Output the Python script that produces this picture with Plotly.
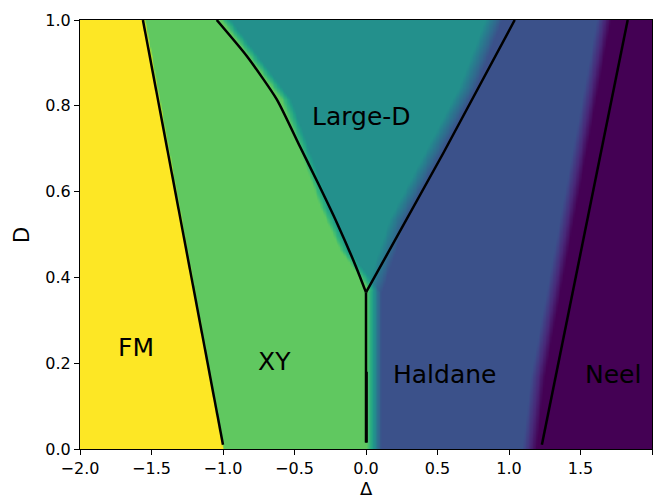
import numpy as np
import plotly.graph_objects as go

# ---- phase values (viridis positions) ----
phase_names = ["FM", "XY", "Large-D", "Haldane", "Neel"]
phase_values = [1.0, 0.75, 0.5, 0.25, 0.0]

# ---- colour-map (heatmap) boundaries ----
cmap_fm_xy_D = [0.0, 1.0]
cmap_fm_xy_delta = [-1.0, -1.55]
cmap_tc_D = 0.37
cmap_xy_h_delta = 0.055
cmap_xy_ld_D = [0.37, 0.464, 0.565, 0.705, 0.815, 1.0]
cmap_xy_ld_delta = [0.055, -0.15, -0.29, -0.44, -0.56, -0.98]
cmap_ld_h_D = [0.37, 0.464, 0.534, 0.845, 1.0]
cmap_ld_h_delta = [0.055, 0.15, 0.22, 0.71, 0.89]
cmap_h_n_D = [0.0, 0.17, 1.0]
cmap_h_n_delta = [1.14, 1.20, 1.66]
# widths of the colour blur across each boundary (in delta units)
blur_fm_xy, blur_xy_ld, blur_ld_h, blur_xy_h, blur_h_n = 0.015, 0.07, 0.12, 0.1, 0.1

# ---- black boundary lines ----
line_fm_xy_delta = [-1.0, -1.56]
line_fm_xy_D = [0.01, 1.0]
line_xy_ld_delta = [0.0, -0.07, -0.203, -0.336, -0.462, -0.624, -0.834, -1.044]
line_xy_ld_D = [0.365, 0.425, 0.527, 0.620, 0.705, 0.815, 0.916, 1.0]
line_ld_h_delta = [0.0, 0.541, 1.04]
line_ld_h_D = [0.365, 0.69, 1.0]
line_xy_h_delta = [0.0, 0.0]
line_xy_h_D = [0.015, 0.365]
line_xy_h2_delta = [0.004, 0.004]
line_xy_h2_D = [0.015, 0.18]
line_h_n_delta = [1.23, 1.83]
line_h_n_D = [0.01, 1.0]

# ---- labels ----
label_text = ["FM", "XY", "Large-D", "Haldane", "Neel"]
label_delta = [-1.61, -0.64, -0.03, 0.55, 1.73]
label_D = [0.236, 0.204, 0.776, 0.173, 0.173]

x_tickvals = [-2.0, -1.5, -1.0, -0.5, 0.0, 0.5, 1.0, 1.5, 2.0]
x_ticktext = ["\u22122.0", "\u22121.5", "\u22121.0", "\u22120.5", "0.0", "0.5", "1.0", "1.5", "2.0"]
y_tickvals = [0.0, 0.2, 0.4, 0.6, 0.8, 1.0]
y_ticktext = ["0.0", "0.2", "0.4", "0.6", "0.8", "1.0"]

# ---- build phase grid from the boundaries ----
gx = np.linspace(-2, 2, 401)
gy = np.linspace(0, 1, 201)


def ramp(x, b, w):
    return np.clip((x - b) / w + 0.5, 0.0, 1.0)


rows = []
for d in gy:
    b1 = np.interp(d, cmap_fm_xy_D, cmap_fm_xy_delta)
    if d < cmap_tc_D:
        b2 = b3 = cmap_xy_h_delta
        w2 = w3 = blur_xy_h
    else:
        b2 = np.interp(d, cmap_xy_ld_D, cmap_xy_ld_delta)
        b3 = np.interp(d, cmap_ld_h_D, cmap_ld_h_delta)
        w2, w3 = blur_xy_ld, blur_ld_h
    b4 = np.interp(d, cmap_h_n_D, cmap_h_n_delta)
    z = phase_values[0] - 0.25 * (ramp(gx, b1, blur_fm_xy) + ramp(gx, b2, w2)
                                  + ramp(gx, b3, w3) + ramp(gx, b4, blur_h_n))
    rows.append(z)
Z = np.array(rows)

fig = go.Figure()
fig.add_trace(go.Heatmap(x=gx, y=gy, z=Z, colorscale="Viridis", zmin=0, zmax=1,
                         zsmooth="best", showscale=False, hoverinfo="skip"))

lw = 2.5
for xs, ys, shp in [(line_fm_xy_delta, line_fm_xy_D, "linear"),
                    (line_xy_ld_delta, line_xy_ld_D, "spline"),
                    (line_ld_h_delta, line_ld_h_D, "linear"),
                    (line_xy_h_delta, line_xy_h_D, "linear"),
                    (line_xy_h2_delta, line_xy_h2_D, "linear"),
                    (line_h_n_delta, line_h_n_D, "linear")]:
    fig.add_trace(go.Scatter(x=xs, y=ys, mode="lines",
                             line=dict(color="black", width=lw, shape=shp, smoothing=0.6),
                             showlegend=False, hoverinfo="skip"))

for t, x, y in zip(label_text, label_delta, label_D):
    fig.add_annotation(x=x, y=y, text=t, showarrow=False, xref="x", yref="y",
                       font=dict(size=25, color="black"), xanchor="center", yanchor="middle")

fig.add_annotation(x=-0.1014, y=0.499, xref="paper", yref="paper", text="D", showarrow=False,
                   textangle=-90, font=dict(size=21, color="black"), xanchor="center", yanchor="middle")
fig.add_annotation(x=0.5, y=-0.0921, xref="paper", yref="paper", text="\u0394", showarrow=False,
                   font=dict(size=18, color="black"), xanchor="center", yanchor="middle")

axis_common = dict(showgrid=False, zeroline=False, showline=True, linecolor="black", linewidth=1.2,
                   mirror=True, ticks="outside", ticklen=5, tickwidth=1.2, tickcolor="black",
                   tickfont=dict(size=16, color="black"))
fig.update_xaxes(range=[-2, 2], tickvals=x_tickvals, ticktext=x_ticktext, **axis_common)
fig.update_yaxes(range=[0, 1], tickvals=y_tickvals, ticktext=y_ticktext, **axis_common)

fig.update_layout(width=664, height=500, margin=dict(l=80, r=12, t=20, b=51),
                  paper_bgcolor="white", plot_bgcolor="white",
                  font=dict(family="DejaVu Sans", color="black"), showlegend=False)

fig.write_html("out.html")
